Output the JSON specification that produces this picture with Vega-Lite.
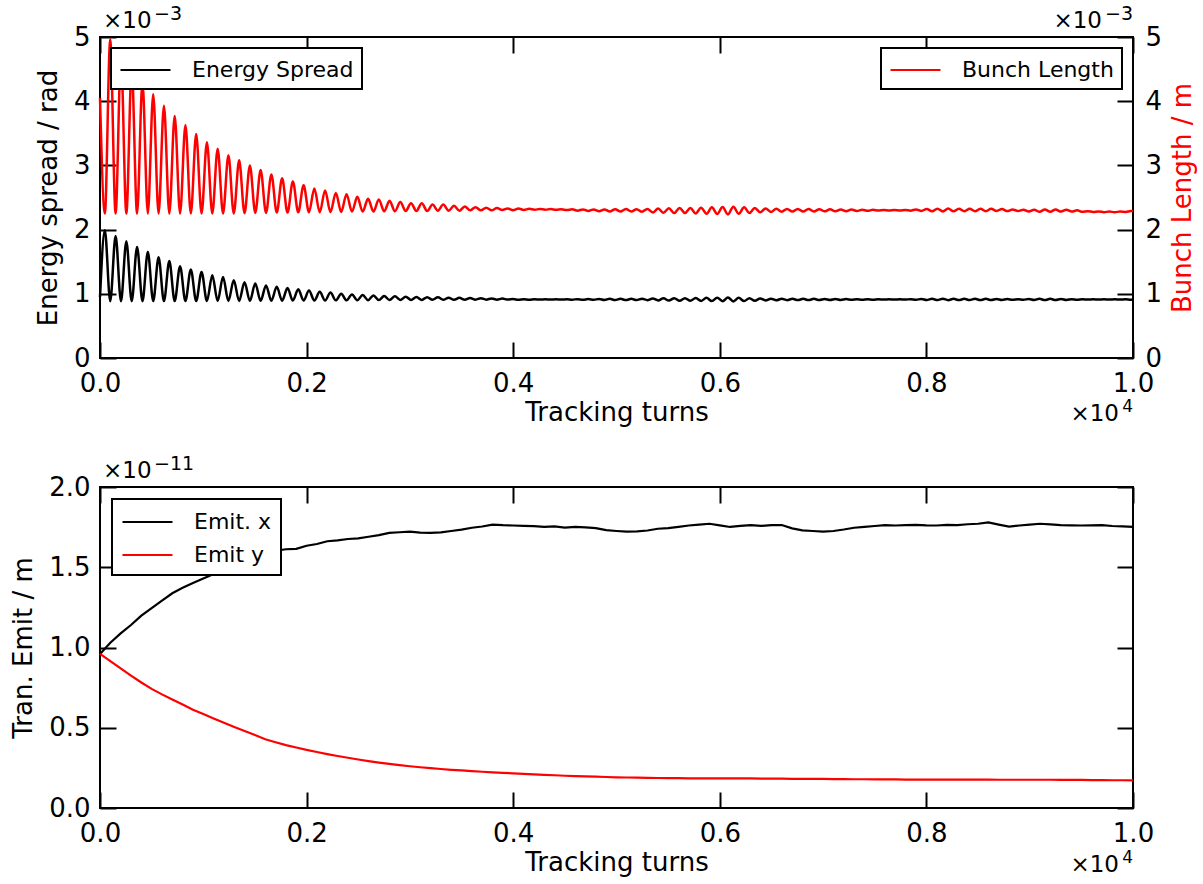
{
"$schema": "https://vega.github.io/schema/vega-lite/v6.json",
"background": "white",
"padding": {"left": 9, "top": 4, "right": 5, "bottom": 5},
"bounds": "flush",
"spacing": 129,
"resolve": {"scale": {"color": "independent"}, "legend": {"color": "independent"}},
"config": {
 "font": "DejaVu Sans",
 "view": {"stroke": "black", "strokeWidth": 2},
 "axis": {"grid": false, "domain": false, "tickSize": -16, "tickWidth": 2, "tickColor": "black", "labelFontSize": 26, "labelColor": "black", "labelFont": "DejaVu Sans", "labelFlush": false, "labelOverlap": false, "labelPadding": 26, "titleFontSize": 26, "titleFont": "DejaVu Sans", "titleFontWeight": "normal", "titleColor": "black"},
 "legend": {"strokeColor": "black", "strokeWidth": 2, "fillColor": "white", "cornerRadius": 0, "padding": 8, "symbolType": "M-1,0H3", "symbolSize": 625, "symbolStrokeWidth": 2.2, "labelFontSize": 22, "labelFont": "DejaVu Sans", "labelColor": "black", "labelOffset": 45, "labelLimit": 0, "offset": 11}
},
"datasets": {
"top": [
{"t":0,"es":0.95,"bl":4.05},{"t":47,"es":1.99,"bl":2.25},{"t":99,"es":0.885,"bl":4.96},{"t":151,"es":1.90,"bl":2.25},{"t":203,"es":0.885,"bl":4.71},{"t":255,"es":1.82,"bl":2.25},{"t":307,"es":0.885,"bl":4.51},{"t":359,"es":1.73,"bl":2.25},{"t":411,"es":0.885,"bl":4.30},{"t":463,"es":1.65,"bl":2.25},{"t":515,"es":0.886,"bl":4.11},{"t":567,"es":1.57,"bl":2.25},{"t":619,"es":0.886,"bl":3.93},{"t":671,"es":1.51,"bl":2.25},{"t":723,"es":0.886,"bl":3.77},{"t":775,"es":1.43,"bl":2.25},{"t":827,"es":0.887,"bl":3.63},{"t":879,"es":1.38,"bl":2.25},{"t":931,"es":0.887,"bl":3.49},{"t":983,"es":1.34,"bl":2.25},{"t":1035,"es":0.888,"bl":3.36},{"t":1087,"es":1.29,"bl":2.25},{"t":1139,"es":0.888,"bl":3.26},{"t":1191,"es":1.26,"bl":2.25},{"t":1243,"es":0.889,"bl":3.16},{"t":1295,"es":1.21,"bl":2.25},{"t":1347,"es":0.889,"bl":3.08},{"t":1399,"es":1.18,"bl":2.255},{"t":1451,"es":0.890,"bl":3.00},{"t":1503,"es":1.16,"bl":2.26},{"t":1555,"es":0.891,"bl":2.93},{"t":1607,"es":1.13,"bl":2.26},{"t":1659,"es":0.892,"bl":2.86},{"t":1711,"es":1.11,"bl":2.265},{"t":1763,"es":0.893,"bl":2.80},{"t":1815,"es":1.09,"bl":2.265},{"t":1867,"es":0.894,"bl":2.75},{"t":1919,"es":1.07,"bl":2.27},{"t":1971,"es":0.895,"bl":2.69},{"t":2023,"es":1.05,"bl":2.27},{"t":2075,"es":0.896,"bl":2.64},{"t":2127,"es":1.03,"bl":2.27},{"t":2179,"es":0.897,"bl":2.61},{"t":2231,"es":1.02,"bl":2.275},{"t":2283,"es":0.898,"bl":2.57},{"t":2335,"es":1.00,"bl":2.275},{"t":2387,"es":0.899,"bl":2.55},{"t":2439,"es":0.99,"bl":2.28},{"t":2491,"es":0.900,"bl":2.51},{"t":2543,"es":0.98,"bl":2.28},{"t":2595,"es":0.901,"bl":2.48},{"t":2647,"es":0.975,"bl":2.28},{"t":2699,"es":0.902,"bl":2.47},{"t":2751,"es":0.965,"bl":2.285},{"t":2803,"es":0.903,"bl":2.45},{"t":2855,"es":0.96,"bl":2.285},{"t":2907,"es":0.904,"bl":2.43},{"t":2959,"es":0.955,"bl":2.29},{"t":3011,"es":0.905,"bl":2.41},{"t":3063,"es":0.95,"bl":2.29},{"t":3115,"es":0.905,"bl":2.41},{"t":3167,"es":0.948,"bl":2.29},{"t":3219,"es":0.906,"bl":2.39},{"t":3271,"es":0.945,"bl":2.295},{"t":3323,"es":0.906,"bl":2.39},{"t":3375,"es":0.94,"bl":2.295},{"t":3427,"es":0.907,"bl":2.37},{"t":3479,"es":0.937,"bl":2.295},{"t":3531,"es":0.907,"bl":2.36},{"t":3583,"es":0.934,"bl":2.30},{"t":3635,"es":0.908,"bl":2.35},{"t":3687,"es":0.931,"bl":2.30},{"t":3739,"es":0.909,"bl":2.34},{"t":3791,"es":0.928,"bl":2.30},{"t":3843,"es":0.909,"bl":2.335},{"t":3895,"es":0.925,"bl":2.305},{"t":3947,"es":0.910,"bl":2.33},
{"t":3999,"es":0.918,"bl":2.303},{"t":4051,"es":0.906,"bl":2.327},{"t":4103,"es":0.916,"bl":2.307},{"t":4155,"es":0.908,"bl":2.323},{"t":4207,"es":0.9145,"bl":2.31},{"t":4259,"es":0.9095,"bl":2.32},{"t":4311,"es":0.914,"bl":2.311},{"t":4363,"es":0.910,"bl":2.319},{"t":4415,"es":0.914,"bl":2.308},{"t":4467,"es":0.910,"bl":2.316},{"t":4519,"es":0.915,"bl":2.304},{"t":4571,"es":0.909,"bl":2.316},{"t":4623,"es":0.917,"bl":2.295},{"t":4675,"es":0.907,"bl":2.315},{"t":4727,"es":0.918,"bl":2.291},{"t":4779,"es":0.906,"bl":2.315},{"t":4831,"es":0.9195,"bl":2.285},{"t":4883,"es":0.9045,"bl":2.315},{"t":4935,"es":0.921,"bl":2.282},{"t":4987,"es":0.903,"bl":2.318},{"t":5039,"es":0.922,"bl":2.28},{"t":5091,"es":0.902,"bl":2.32},{"t":5143,"es":0.921,"bl":2.282},{"t":5195,"es":0.903,"bl":2.318},{"t":5247,"es":0.923,"bl":2.278},{"t":5299,"es":0.901,"bl":2.322},{"t":5351,"es":0.927,"bl":2.267},{"t":5403,"es":0.897,"bl":2.327},{"t":5455,"es":0.9295,"bl":2.262},{"t":5507,"es":0.8945,"bl":2.332},{"t":5559,"es":0.932,"bl":2.257},{"t":5611,"es":0.892,"bl":2.337},{"t":5663,"es":0.932,"bl":2.257},{"t":5715,"es":0.892,"bl":2.337},{"t":5767,"es":0.9345,"bl":2.252},{"t":5819,"es":0.8895,"bl":2.342},{"t":5871,"es":0.937,"bl":2.247},{"t":5923,"es":0.887,"bl":2.347},{"t":5975,"es":0.9395,"bl":2.242},{"t":6027,"es":0.8845,"bl":2.352},{"t":6079,"es":0.942,"bl":2.237},{"t":6131,"es":0.882,"bl":2.357},{"t":6183,"es":0.937,"bl":2.247},{"t":6235,"es":0.887,"bl":2.347},{"t":6287,"es":0.932,"bl":2.257},{"t":6339,"es":0.892,"bl":2.337},{"t":6391,"es":0.927,"bl":2.27},{"t":6443,"es":0.897,"bl":2.33},{"t":6495,"es":0.9245,"bl":2.275},{"t":6547,"es":0.8995,"bl":2.325},{"t":6599,"es":0.923,"bl":2.278},{"t":6651,"es":0.901,"bl":2.322},{"t":6703,"es":0.922,"bl":2.28},{"t":6755,"es":0.902,"bl":2.32},{"t":6807,"es":0.922,"bl":2.28},{"t":6859,"es":0.902,"bl":2.32},{"t":6911,"es":0.921,"bl":2.282},{"t":6963,"es":0.903,"bl":2.318},{"t":7015,"es":0.920,"bl":2.284},{"t":7067,"es":0.904,"bl":2.316},{"t":7119,"es":0.9195,"bl":2.285},{"t":7171,"es":0.9045,"bl":2.315},{"t":7223,"es":0.9185,"bl":2.287},{"t":7275,"es":0.9055,"bl":2.313},{"t":7327,"es":0.917,"bl":2.29},{"t":7379,"es":0.907,"bl":2.31},{"t":7431,"es":0.916,"bl":2.292},{"t":7483,"es":0.908,"bl":2.308},{"t":7535,"es":0.9145,"bl":2.297},{"t":7587,"es":0.9095,"bl":2.307},{"t":7639,"es":0.914,"bl":2.298},{"t":7691,"es":0.910,"bl":2.306},{"t":7743,"es":0.9145,"bl":2.297},{"t":7795,"es":0.9095,"bl":2.307},{"t":7847,"es":0.917,"bl":2.295},{"t":7899,"es":0.907,"bl":2.315},{"t":7951,"es":0.9195,"bl":2.29},{"t":8003,"es":0.9045,"bl":2.32},{"t":8055,"es":0.922,"bl":2.285},{"t":8107,"es":0.902,"bl":2.325},{"t":8159,"es":0.923,"bl":2.283},{"t":8211,"es":0.901,"bl":2.327},{"t":8263,"es":0.922,"bl":2.285},{"t":8315,"es":0.902,"bl":2.325},{"t":8367,"es":0.921,"bl":2.287},{"t":8419,"es":0.903,"bl":2.323},{"t":8471,"es":0.922,"bl":2.285},{"t":8523,"es":0.902,"bl":2.325},{"t":8575,"es":0.921,"bl":2.287},{"t":8627,"es":0.903,"bl":2.323},{"t":8679,"es":0.9195,"bl":2.29},{"t":8731,"es":0.9045,"bl":2.32},{"t":8783,"es":0.918,"bl":2.288},{"t":8835,"es":0.906,"bl":2.312},{"t":8887,"es":0.917,"bl":2.29},{"t":8939,"es":0.907,"bl":2.31},{"t":8991,"es":0.9195,"bl":2.28},{"t":9043,"es":0.9045,"bl":2.31},{"t":9095,"es":0.921,"bl":2.277},{"t":9147,"es":0.903,"bl":2.313},{"t":9199,"es":0.921,"bl":2.277},{"t":9251,"es":0.903,"bl":2.313},{"t":9303,"es":0.9195,"bl":2.28},{"t":9355,"es":0.9045,"bl":2.31},{"t":9407,"es":0.917,"bl":2.28},{"t":9459,"es":0.907,"bl":2.30},{"t":9511,"es":0.9145,"bl":2.277},{"t":9563,"es":0.9095,"bl":2.287},{"t":9615,"es":0.914,"bl":2.274},{"t":9667,"es":0.910,"bl":2.282},{"t":9719,"es":0.914,"bl":2.272},{"t":9771,"es":0.910,"bl":2.28},{"t":9823,"es":0.914,"bl":2.272},{"t":9875,"es":0.910,"bl":2.28},{"t":9927,"es":0.915,"bl":2.276},{"t":9979,"es":0.909,"bl":2.288},{"t":10000,"es":0.911,"bl":2.29}
],
"bottom": [
{"t":0,"ex":0.960,"ey":0.960},{"t":100,"ex":1.030,"ey":0.915},{"t":200,"ex":1.088,"ey":0.870},{"t":300,"ex":1.140,"ey":0.825},{"t":400,"ex":1.198,"ey":0.782},{"t":500,"ex":1.245,"ey":0.742},{"t":600,"ex":1.292,"ey":0.708},{"t":700,"ex":1.338,"ey":0.676},{"t":800,"ex":1.372,"ey":0.645},{"t":900,"ex":1.402,"ey":0.612},{"t":1000,"ex":1.430,"ey":0.585},{"t":1100,"ex":1.458,"ey":0.558},{"t":1200,"ex":1.487,"ey":0.531},{"t":1300,"ex":1.515,"ey":0.505},{"t":1400,"ex":1.540,"ey":0.480},{"t":1500,"ex":1.562,"ey":0.455},{"t":1600,"ex":1.585,"ey":0.428},{"t":1700,"ex":1.603,"ey":0.410},{"t":1800,"ex":1.612,"ey":0.392},{"t":1900,"ex":1.615,"ey":0.377},{"t":2000,"ex":1.634,"ey":0.362},{"t":2100,"ex":1.645,"ey":0.349},{"t":2200,"ex":1.662,"ey":0.336},{"t":2300,"ex":1.668,"ey":0.324},{"t":2400,"ex":1.676,"ey":0.313},{"t":2500,"ex":1.680,"ey":0.302},{"t":2600,"ex":1.690,"ey":0.292},{"t":2700,"ex":1.700,"ey":0.283},{"t":2800,"ex":1.714,"ey":0.275},{"t":2900,"ex":1.718,"ey":0.267},{"t":3000,"ex":1.722,"ey":0.260},{"t":3100,"ex":1.716,"ey":0.254},{"t":3200,"ex":1.714,"ey":0.248},{"t":3300,"ex":1.717,"ey":0.243},{"t":3400,"ex":1.726,"ey":0.238},{"t":3500,"ex":1.734,"ey":0.234},{"t":3600,"ex":1.746,"ey":0.230},{"t":3700,"ex":1.754,"ey":0.226},{"t":3800,"ex":1.766,"ey":0.222},{"t":3900,"ex":1.762,"ey":0.219},{"t":4000,"ex":1.760,"ey":0.216},{"t":4100,"ex":1.758,"ey":0.213},{"t":4200,"ex":1.756,"ey":0.210},{"t":4300,"ex":1.751,"ey":0.207},{"t":4400,"ex":1.755,"ey":0.204},{"t":4500,"ex":1.747,"ey":0.201},{"t":4600,"ex":1.751,"ey":0.199},{"t":4700,"ex":1.749,"ey":0.197},{"t":4800,"ex":1.744,"ey":0.195},{"t":4900,"ex":1.731,"ey":0.193},{"t":5000,"ex":1.726,"ey":0.191},{"t":5100,"ex":1.722,"ey":0.190},{"t":5200,"ex":1.724,"ey":0.189},{"t":5300,"ex":1.729,"ey":0.188},{"t":5400,"ex":1.740,"ey":0.187},{"t":5500,"ex":1.744,"ey":0.186},{"t":5600,"ex":1.752,"ey":0.186},{"t":5700,"ex":1.760,"ey":0.185},{"t":5800,"ex":1.766,"ey":0.185},{"t":5900,"ex":1.771,"ey":0.185},{"t":6000,"ex":1.761,"ey":0.185},{"t":6100,"ex":1.751,"ey":0.184},{"t":6200,"ex":1.758,"ey":0.184},{"t":6300,"ex":1.763,"ey":0.184},{"t":6400,"ex":1.758,"ey":0.183},{"t":6500,"ex":1.762,"ey":0.183},{"t":6600,"ex":1.763,"ey":0.183},{"t":6700,"ex":1.742,"ey":0.182},{"t":6800,"ex":1.730,"ey":0.182},{"t":6900,"ex":1.726,"ey":0.181},{"t":7000,"ex":1.722,"ey":0.181},{"t":7100,"ex":1.726,"ey":0.180},{"t":7200,"ex":1.735,"ey":0.180},{"t":7300,"ex":1.746,"ey":0.179},{"t":7400,"ex":1.752,"ey":0.179},{"t":7500,"ex":1.757,"ey":0.178},{"t":7600,"ex":1.763,"ey":0.178},{"t":7700,"ex":1.760,"ey":0.178},{"t":7800,"ex":1.762,"ey":0.177},{"t":7900,"ex":1.764,"ey":0.177},{"t":8000,"ex":1.761,"ey":0.177},{"t":8100,"ex":1.760,"ey":0.177},{"t":8200,"ex":1.764,"ey":0.177},{"t":8300,"ex":1.763,"ey":0.177},{"t":8400,"ex":1.768,"ey":0.177},{"t":8500,"ex":1.771,"ey":0.177},{"t":8600,"ex":1.780,"ey":0.177},{"t":8700,"ex":1.766,"ey":0.176},{"t":8800,"ex":1.753,"ey":0.176},{"t":8900,"ex":1.760,"ey":0.176},{"t":9000,"ex":1.765,"ey":0.176},{"t":9100,"ex":1.771,"ey":0.176},{"t":9200,"ex":1.767,"ey":0.176},{"t":9300,"ex":1.763,"ey":0.175},{"t":9400,"ex":1.761,"ey":0.175},{"t":9500,"ex":1.760,"ey":0.175},{"t":9600,"ex":1.761,"ey":0.174},{"t":9700,"ex":1.762,"ey":0.174},{"t":9800,"ex":1.757,"ey":0.173},{"t":9900,"ex":1.755,"ey":0.173},{"t":10000,"ex":1.752,"ey":0.172}
]
},
"vconcat": [
{
 "width": 1033, "height": 321,
 "layer": [
  {"data": {"name": "top"},
   "mark": {"type": "line", "strokeWidth": 2.5, "interpolate": "monotone"},
   "encoding": {
    "x": {"field": "t", "type": "quantitative", "scale": {"domain": [0, 10000], "nice": false, "zero": false},
          "axis": {"orient": "bottom", "values": [0, 2000, 4000, 6000, 8000, 10000], "labelExpr": "format(datum.value / 10000, '.1f')", "labelPadding": 28, "title": "Tracking turns", "titlePadding": 3}},
    "y": {"field": "es", "type": "quantitative", "scale": {"domain": [0, 5], "nice": false, "zero": false},
          "axis": {"orient": "left", "values": [0, 1, 2, 3, 4, 5], "format": "d", "title": "Energy spread / rad", "titlePadding": 12}},
    "color": {"datum": "Energy Spread", "type": "nominal", "scale": {"domain": ["Energy Spread"], "range": ["black"]},
              "legend": {"orient": "top-left", "title": null}}
   }},
  {"data": {"name": "top"},
   "mark": {"type": "line", "strokeWidth": 2.5, "interpolate": "monotone"},
   "encoding": {
    "x": {"field": "t", "type": "quantitative", "axis": {"orient": "top", "values": [0, 2000, 4000, 6000, 8000, 10000], "labels": false, "title": null}},
    "y": {"field": "bl", "type": "quantitative", "scale": {"domain": [0, 5], "nice": false, "zero": false},
          "axis": {"orient": "right", "values": [0, 1, 2, 3, 4, 5], "format": "d", "labelPadding": 28, "title": "Bunch Length / m", "titleColor": "red", "titleAngle": 270, "titleBaseline": "top", "titlePadding": 8}},
    "color": {"datum": "Bunch Length", "type": "nominal", "scale": {"domain": ["Bunch Length"], "range": ["red"]},
              "legend": {"orient": "top-right", "title": null}}
   }},
  {"data": {"values": [{"label": "×10"}]},
   "mark": {"type": "text", "align": "left", "baseline": "alphabetic", "dx": 3, "dy": -9, "fontSize": 23, "font": "DejaVu Sans", "color": "black"},
   "encoding": {"x": {"datum": 0, "type": "quantitative", "axis": null}, "y": {"datum": 5, "type": "quantitative", "scale": {"domain": [0, 5]}, "axis": null}, "text": {"field": "label"}}},
  {"data": {"values": [{"label": "−3"}]},
   "mark": {"type": "text", "align": "left", "baseline": "alphabetic", "dx": 54, "dy": -17, "fontSize": 19, "font": "DejaVu Sans", "color": "black"},
   "encoding": {"x": {"datum": 0, "type": "quantitative", "axis": null}, "y": {"datum": 5, "type": "quantitative", "scale": {"domain": [0, 5]}, "axis": null}, "text": {"field": "label"}}},
  {"data": {"values": [{"label": "×10"}]},
   "mark": {"type": "text", "align": "right", "baseline": "alphabetic", "dx": -31, "dy": -9, "fontSize": 23, "font": "DejaVu Sans", "color": "black"},
   "encoding": {"x": {"datum": 10000, "type": "quantitative", "axis": null}, "y": {"datum": 5, "type": "quantitative", "scale": {"domain": [0, 5]}, "axis": null}, "text": {"field": "label"}}},
  {"data": {"values": [{"label": "−3"}]},
   "mark": {"type": "text", "align": "right", "baseline": "alphabetic", "dx": 0, "dy": -17, "fontSize": 19, "font": "DejaVu Sans", "color": "black"},
   "encoding": {"x": {"datum": 10000, "type": "quantitative", "axis": null}, "y": {"datum": 5, "type": "quantitative", "scale": {"domain": [0, 5]}, "axis": null}, "text": {"field": "label"}}},
  {"data": {"values": [{"label": "×10"}]},
   "mark": {"type": "text", "align": "right", "baseline": "alphabetic", "dx": -14, "dy": 63, "fontSize": 23, "font": "DejaVu Sans", "color": "black"},
   "encoding": {"x": {"datum": 10000, "type": "quantitative", "axis": null}, "y": {"datum": 0, "type": "quantitative", "scale": {"domain": [0, 5]}, "axis": null}, "text": {"field": "label"}}},
  {"data": {"values": [{"label": "4"}]},
   "mark": {"type": "text", "align": "right", "baseline": "alphabetic", "dx": 0, "dy": 54, "fontSize": 17, "font": "DejaVu Sans", "color": "black"},
   "encoding": {"x": {"datum": 10000, "type": "quantitative", "axis": null}, "y": {"datum": 0, "type": "quantitative", "scale": {"domain": [0, 5]}, "axis": null}, "text": {"field": "label"}}}
 ],
 "resolve": {"scale": {"y": "independent", "color": "independent"}, "axis": {"x": "independent", "y": "independent"}, "legend": {"color": "independent"}}
},
{
 "width": 1033, "height": 321,
 "layer": [
  {"data": {"name": "bottom"},
   "mark": {"type": "line", "strokeWidth": 2.2},
   "encoding": {
    "x": {"field": "t", "type": "quantitative", "scale": {"domain": [0, 10000], "nice": false, "zero": false},
          "axis": {"orient": "bottom", "values": [0, 2000, 4000, 6000, 8000, 10000], "labelExpr": "format(datum.value / 10000, '.1f')", "labelPadding": 28, "title": "Tracking turns", "titlePadding": 3}},
    "y": {"field": "ex", "type": "quantitative", "scale": {"domain": [0, 2], "nice": false, "zero": false},
          "axis": {"orient": "left", "values": [0, 0.5, 1, 1.5, 2], "format": ".1f", "title": "Tran. Emit / m", "titlePadding": 12}},
    "color": {"datum": "Emit. x", "type": "nominal", "scale": {"domain": ["Emit. x", "Emit y"], "range": ["black", "red"]},
              "legend": {"orient": "top-left", "title": null, "offset": 12, "padding": 9, "rowPadding": 8}}
   }},
  {"data": {"name": "bottom"},
   "mark": {"type": "line", "strokeWidth": 2.2},
   "encoding": {
    "x": {"field": "t", "type": "quantitative", "axis": {"orient": "top", "values": [0, 2000, 4000, 6000, 8000, 10000], "labels": false, "title": null}},
    "y": {"field": "ey", "type": "quantitative", "axis": {"orient": "right", "values": [0, 0.5, 1, 1.5, 2], "labels": false, "title": null}},
    "color": {"datum": "Emit y", "type": "nominal"}
   }},
  {"data": {"values": [{"label": "×10"}]},
   "mark": {"type": "text", "align": "left", "baseline": "alphabetic", "dx": 3, "dy": -9, "fontSize": 23, "font": "DejaVu Sans", "color": "black"},
   "encoding": {"x": {"datum": 0, "type": "quantitative", "axis": null}, "y": {"datum": 2, "type": "quantitative", "axis": null}, "text": {"field": "label"}}},
  {"data": {"values": [{"label": "−11"}]},
   "mark": {"type": "text", "align": "left", "baseline": "alphabetic", "dx": 54, "dy": -17, "fontSize": 19, "font": "DejaVu Sans", "color": "black"},
   "encoding": {"x": {"datum": 0, "type": "quantitative", "axis": null}, "y": {"datum": 2, "type": "quantitative", "axis": null}, "text": {"field": "label"}}},
  {"data": {"values": [{"label": "×10"}]},
   "mark": {"type": "text", "align": "right", "baseline": "alphabetic", "dx": -14, "dy": 64, "fontSize": 23, "font": "DejaVu Sans", "color": "black"},
   "encoding": {"x": {"datum": 10000, "type": "quantitative", "axis": null}, "y": {"datum": 0, "type": "quantitative", "axis": null}, "text": {"field": "label"}}},
  {"data": {"values": [{"label": "4"}]},
   "mark": {"type": "text", "align": "right", "baseline": "alphabetic", "dx": 0, "dy": 55, "fontSize": 17, "font": "DejaVu Sans", "color": "black"},
   "encoding": {"x": {"datum": 10000, "type": "quantitative", "axis": null}, "y": {"datum": 0, "type": "quantitative", "axis": null}, "text": {"field": "label"}}}
 ],
 "resolve": {"axis": {"x": "independent", "y": "independent"}}
}
]
}
